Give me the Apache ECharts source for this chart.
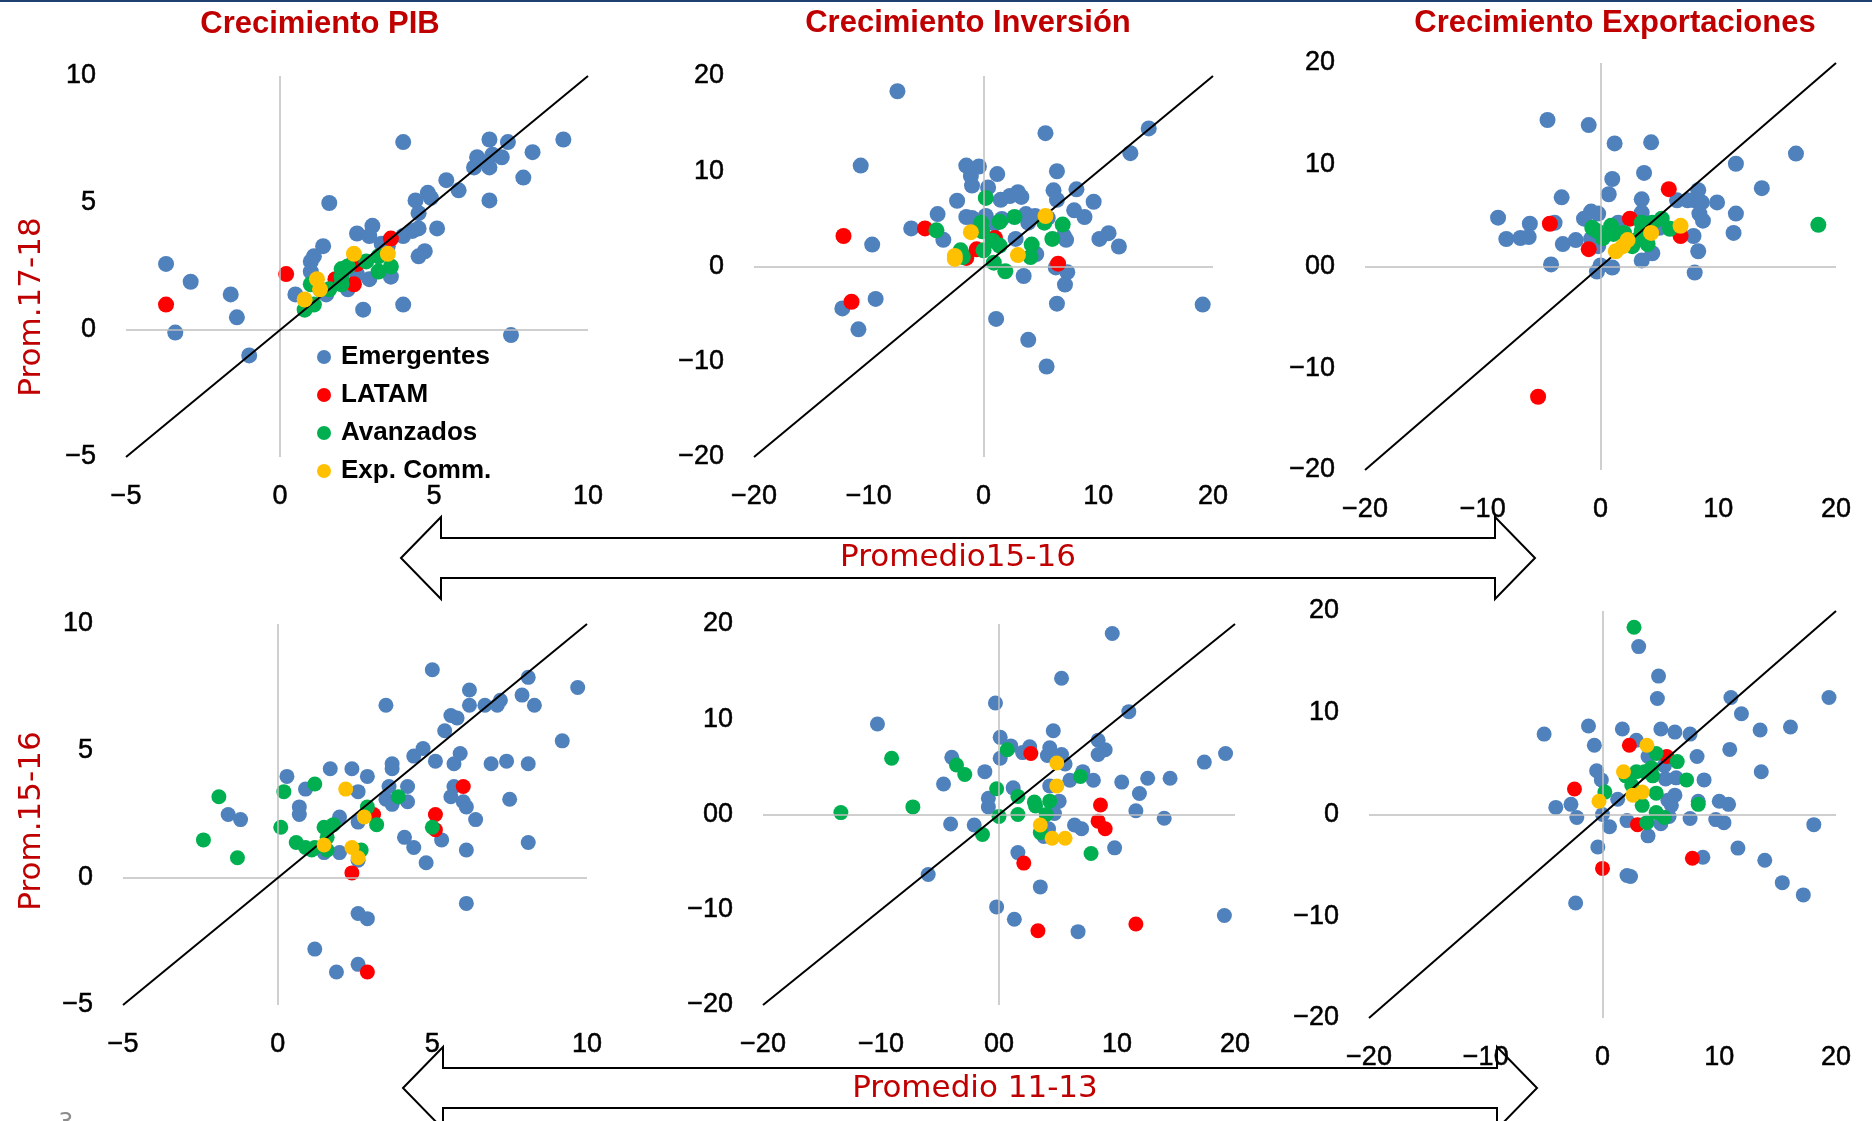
<!DOCTYPE html>
<html>
<head>
<meta charset="utf-8">
<script src="https://cdn.jsdelivr.net/npm/echarts@6/dist/echarts.min.js"></script>
<style>
  html, body { margin: 0; padding: 0; background: #fff; }
  #chart { width: 1872px; height: 1121px; }
</style>
</head>
<body>
<div id="chart"></div>
<script>
const groups = ['Emergentes', 'LATAM', 'Avanzados', 'Exp. Comm.'];
const colors = ['#4F81BD', '#FF0000', '#00B050', '#FFC000'];

// tick labels
const pibTicks = ['−5', '0', '5', '10'];
const invTicks = ['−20', '−10', '0', '10', '20'];
const exp1YTicks = ['−20', '−10', '00', '10', '20'];
const inv2Ticks = ['−20', '−10', '00', '10', '20'];

// Crecimiento PIB, prom. 15-16 (x) vs 17-18 (y)
const pib1Emerg = [[-3.7,2.6],[-2.9,1.9],[-1.6,1.4],[-1.4,0.5],[-3.4,-0.1],[-1.0,-1.0],[4.0,7.4],[1.6,5.0],[6.8,7.5],[7.4,7.4],[9.2,7.5],[8.2,7.0],[6.4,6.8],[6.9,6.9],[7.2,6.8],[6.3,6.4],[6.8,6.4],[6.7,6.6],[7.9,6.0],[5.4,5.9],[5.8,5.5],[6.8,5.1],[4.8,5.4],[4.9,5.2],[4.4,5.1],[4.5,4.6],[5.1,4.0],[4.3,3.9],[4.5,4.0],[4.0,3.7],[4.7,3.1],[4.5,2.9],[4.0,1.0],[7.5,-0.2],[3.0,4.1],[2.5,3.8],[2.9,3.7],[2.7,0.8],[2.9,2.0],[3.6,2.1],[1.4,3.3],[1.1,2.9],[1.0,2.7],[1.0,2.3],[0.5,1.4],[1.5,1.4],[2.2,1.6],[2.4,2.7],[3.3,3.4],[3.5,3.3],[2.5,2.2]];
const pib1Latam = [[-3.7,1.0],[0.2,2.2],[3.6,3.6],[2.5,2.6],[2.4,1.8],[1.8,2.0]];
const pib1Avanz = [[0.8,0.8],[1.1,1.0],[1.0,1.8],[1.3,1.6],[1.6,1.6],[2.0,1.8],[2.0,2.4],[2.2,2.5],[2.8,2.7],[3.2,2.9],[3.2,2.3],[3.6,2.5],[2.0,2.1]];
const pib1Comm = [[0.8,1.2],[1.2,2.0],[1.3,1.6],[2.4,3.0],[3.5,3.0]];

// Crecimiento Inversión
const inv1Emerg = [[-7.5,18.4],[-10.7,10.6],[-9.7,2.3],[-6.3,4.0],[-4.0,5.5],[-3.5,2.8],[-2.3,6.9],[-1.5,10.6],[-0.4,10.5],[-1.1,9.5],[-1.0,8.5],[1.2,9.7],[0.4,8.3],[1.5,7.0],[2.3,7.4],[3.0,7.8],[3.3,7.3],[-1.5,5.2],[-1.0,5.1],[0.2,5.3],[1.0,4.5],[1.6,5.0],[2.8,2.9],[3.7,5.5],[3.9,4.6],[4.5,5.3],[5.6,5.1],[5.4,14.0],[6.4,10.0],[6.1,8.0],[6.4,7.0],[8.1,8.1],[7.9,5.9],[8.8,5.2],[9.6,6.8],[12.8,11.9],[14.4,14.5],[10.1,2.9],[10.9,3.5],[11.8,2.1],[7.0,3.2],[7.2,2.8],[4.6,1.3],[3.5,-1.0],[6.3,-0.1],[7.3,-0.6],[7.1,-1.9],[6.4,-3.9],[19.1,-4.0],[1.1,-5.5],[3.9,-7.7],[5.5,-10.5],[-9.4,-3.4],[-12.3,-4.4],[-10.9,-6.6]];
const inv1Latam = [[-12.2,3.2],[-11.5,-3.7],[-5.1,4.0],[-0.6,1.8],[-1.5,0.9],[1.0,3.0],[6.5,0.3]];
const inv1Avanz = [[-4.1,3.8],[0.2,7.2],[-0.2,4.6],[-0.1,3.7],[1.4,4.7],[2.7,5.2],[5.3,4.6],[6.9,4.4],[6.0,2.9],[4.2,2.3],[4.1,1.0],[0.8,2.7],[1.4,2.2],[0,1.7],[-2.0,1.7],[-1.8,1.0],[0.9,0.4],[1.9,-0.5]];
const inv1Comm = [[-1.1,3.6],[-2.5,0.8],[-2.5,1.1],[3.0,1.2],[5.4,5.3]];

// Crecimiento Exportaciones
const exp1Emerg = [[-4.5,14.4],[-1.0,13.9],[1.2,12.1],[4.3,12.2],[16.6,11.1],[11.5,10.1],[3.7,9.2],[1.0,8.6],[0.7,7.1],[-3.3,6.8],[3.5,6.6],[8.3,7.5],[6.5,6.5],[7.4,6.5],[8.0,6.5],[8.6,6.3],[9.9,6.3],[13.7,7.7],[8.4,5.2],[8.7,4.5],[11.5,5.2],[11.3,3.3],[7.9,3.0],[8.3,1.5],[8.0,-0.6],[3.5,5.3],[-0.8,5.4],[-0.2,5.2],[-1.4,4.7],[-8.7,4.8],[-6.0,4.2],[-8.0,2.7],[-6.8,2.8],[-6.1,2.9],[-3.9,4.3],[-3.2,2.2],[-2.1,2.6],[-4.2,0.2],[-0.8,2.7],[-0.2,2.0],[-0.3,-0.5],[0,0.1],[1.0,-0.1],[3.5,0.6],[4.4,1.3],[1.5,4.3],[5.0,3.8]];
const exp1Latam = [[-5.3,-12.8],[-4.3,4.2],[-1.0,1.7],[2.5,4.7],[5.8,7.6],[6.8,3.0]];
const exp1Avanz = [[18.5,4.1],[-0.7,3.8],[-0.3,3.5],[0.2,2.8],[0.9,4.0],[1.1,3.2],[2.0,3.3],[2.7,2.0],[3.5,4.3],[3.5,3.5],[4.0,2.2],[4.4,4.3],[5.2,4.7],[5.9,3.7],[3.2,2.7]];
const exp1Comm = [[1.3,1.5],[1.9,2.0],[2.3,2.6],[4.3,3.3],[6.8,4.0]];

// second row: prom. 11-13 (x) vs 15-16 (y)
const pib2Emerg = [[5.0,8.2],[8.1,7.9],[9.7,7.5],[6.2,7.4],[7.9,7.2],[6.2,6.8],[7.2,7.0],[7.1,6.8],[6.7,6.8],[8.3,6.8],[3.5,6.8],[5.6,6.4],[5.8,6.3],[5.4,5.8],[9.2,5.4],[4.7,5.1],[4.4,4.8],[5.1,4.6],[5.9,4.9],[5.7,4.5],[6.9,4.5],[7.4,4.6],[8.1,4.5],[3.7,4.5],[3.7,4.3],[1.7,4.3],[2.4,4.3],[2.9,4.0],[0.3,4.0],[0.9,3.5],[2.6,3.4],[3.6,3.6],[3.5,3.1],[3.7,2.9],[4.2,3.6],[4.2,3.0],[5.7,3.6],[5.6,3.2],[6.0,3.0],[6.1,2.8],[6.4,2.3],[7.5,3.1],[0.7,2.8],[0.7,2.5],[-1.6,2.5],[-1.2,2.3],[2.0,2.4],[2.6,2.2],[4.1,1.6],[4.4,1.2],[5.3,1.5],[6.1,1.1],[8.1,1.4],[4.8,0.6],[2.0,1.0],[1.5,1.0],[2.6,0.7],[6.1,-1.0],[2.6,-1.4],[2.9,-1.6],[1.2,-2.8],[1.9,-3.7],[2.6,-3.4]];
const pib2Latam = [[6.0,3.6],[5.1,2.5],[5.1,1.9],[3.1,2.5],[2.4,0.2],[2.9,-3.7]];
const pib2Avanz = [[-1.9,3.2],[-2.4,1.5],[-1.3,0.8],[0.2,3.4],[1.2,3.7],[0.1,2.0],[0.6,1.4],[0.9,1.2],[1.1,1.1],[1.2,1.2],[1.6,1.1],[1.6,1.6],[1.5,2.0],[1.8,2.1],[2.9,2.8],[3.2,2.1],[3.9,3.2],[5.0,2.0],[2.7,1.1]];
const pib2Comm = [[2.2,3.5],[2.8,2.4],[1.5,1.3],[2.4,1.2],[2.6,0.8]];

const inv2Emerg = [[9.6,19.0],[5.3,14.3],[-0.3,11.7],[-10.3,9.5],[11.0,10.8],[4.6,8.8],[0.1,8.1],[1.0,7.2],[2.6,7.1],[4.3,7.0],[4.1,6.2],[5.3,6.3],[2.0,6.5],[0.1,5.9],[-4.0,6.0],[5.6,5.3],[8.4,7.8],[9.0,6.8],[8.4,6.3],[7.1,4.5],[8.0,3.6],[6.0,3.6],[-1.2,4.5],[-4.7,3.2],[1.2,2.8],[4.3,3.0],[-0.9,1.7],[-0.9,0.8],[5.1,1.4],[4.7,0.1],[10.4,3.4],[11.9,2.2],[12.6,3.8],[14.5,3.8],[17.4,5.5],[19.2,6.4],[11.6,0.4],[14.0,-0.4],[-4.1,-1.0],[-2.1,-1.1],[6.4,-1.1],[7.0,-1.5],[4.2,-1.5],[3.8,-2.3],[9.8,-3.5],[1.6,-4.0],[-6.0,-6.3],[3.5,-7.6],[-0.2,-9.7],[1.3,-11.0],[6.7,-12.3],[19.1,-10.6]];
const inv2Latam = [[2.7,6.4],[8.6,1.0],[8.4,-0.7],[9.0,-1.5],[2.1,-5.1],[3.3,-12.2],[11.6,-11.5]];
const inv2Avanz = [[-13.4,0.2],[-7.3,0.8],[-9.1,5.9],[-3.6,5.2],[-2.9,4.2],[-0.2,2.7],[0.7,6.8],[1.6,1.9],[1.6,0.0],[0,-0.2],[-1.4,-2.1],[3.0,1.3],[3.1,0.9],[4.3,1.4],[4.0,0.0],[6.9,4.0],[7.8,-4.1],[3.5,-1.9]];
const inv2Comm = [[4.9,5.4],[4.9,3.0],[3.5,-1.1],[4.5,-2.5],[5.6,-2.5]];

const exp2Emerg = [[3.1,16.5],[4.8,13.6],[4.7,11.4],[11.0,11.5],[19.4,11.5],[11.9,9.9],[-1.2,8.7],[1.7,8.4],[5.0,8.4],[6.2,8.1],[7.5,7.9],[13.5,8.3],[16.1,8.6],[-5.0,7.9],[-0.7,6.8],[2.9,7.3],[3.9,5.7],[8.1,5.7],[10.9,6.4],[5.3,4.8],[-0.5,4.3],[-0.1,3.4],[5.4,3.5],[6.3,3.6],[8.7,3.4],[13.6,4.2],[1.3,1.5],[5.6,1.4],[6.2,1.9],[5.9,0.9],[8.2,1.3],[10.0,1.3],[10.8,1.0],[-4.0,0.7],[-2.7,1.0],[-2.2,-0.3],[0,0],[0.6,-1.2],[2.1,-0.6],[5.0,-0.9],[5.7,-0.2],[7.5,-0.4],[9.7,-0.5],[10.4,-0.8],[18.1,-1.0],[3.9,-2.1],[-0.4,-3.2],[11.6,-3.3],[8.6,-4.2],[13.9,-4.5],[2.1,-6.0],[2.4,-6.1],[15.4,-6.7],[17.2,-7.9],[-2.3,-8.7]];
const exp2Latam = [[2.3,6.8],[5.5,5.7],[-2.4,2.5],[3.0,-1.0],[0,-5.3],[7.7,-4.3]];
const exp2Avanz = [[2.7,18.4],[4.6,6.0],[6.4,5.2],[7.2,3.4],[8.2,1.0],[0.2,2.2],[4.6,2.1],[3.4,0.9],[4.6,0.2],[5.3,-0.3],[3.8,-0.8],[2.0,3.8],[2.9,4.2],[3.6,4.2],[4.2,4.6],[4.3,3.8],[2.5,2.9]];
const exp2Comm = [[3.8,6.8],[1.8,4.2],[3.4,2.2],[2.6,1.9],[-0.3,1.3]];

const panels = [
  { grid: [126, 76, 462, 381], range: [-5, 10, 5], xt: pibTicks, yt: pibTicks, sets: [pib1Emerg, pib1Latam, pib1Avanz, pib1Comm], size: 16 },
  { grid: [754, 76, 459, 381], range: [-20, 20, 10], xt: invTicks, yt: invTicks, sets: [inv1Emerg, inv1Latam, inv1Avanz, inv1Comm], size: 16 },
  { grid: [1365, 63, 471, 407], range: [-20, 20, 10], xt: invTicks, yt: exp1YTicks, sets: [exp1Emerg, exp1Latam, exp1Avanz, exp1Comm], size: 16 },
  { grid: [123, 624, 464, 381], range: [-5, 10, 5], xt: pibTicks, yt: pibTicks, sets: [pib2Emerg, pib2Latam, pib2Avanz, pib2Comm], size: 15 },
  { grid: [763, 624, 472, 381], range: [-20, 20, 10], xt: inv2Ticks, yt: inv2Ticks, sets: [inv2Emerg, inv2Latam, inv2Avanz, inv2Comm], size: 15 },
  { grid: [1369, 611, 467, 407], range: [-20, 20, 10], xt: invTicks, yt: invTicks, sets: [exp2Emerg, exp2Latam, exp2Avanz, exp2Comm], size: 15 }
];

const tickFont = { fontFamily: 'Liberation Sans', fontSize: 27, color: '#000', textBorderColor: '#000', textBorderWidth: 0.5 };
const grids = [], xAxes = [], yAxes = [], series = [];

panels.forEach((p, i) => {
  const [min, max, step] = p.range;
  grids.push({ left: p.grid[0], top: p.grid[1], width: p.grid[2], height: p.grid[3] });
  const axisBase = {
    gridIndex: i, type: 'value', min: min, max: max, interval: step,
    axisLine: { show: false }, axisTick: { show: false }, splitLine: { show: false }
  };
  xAxes.push(Object.assign({}, axisBase, {
    axisLabel: Object.assign({ margin: 26, formatter: (v, k) => p.xt[k] }, tickFont)
  }));
  yAxes.push(Object.assign({}, axisBase, {
    axisLabel: Object.assign({ margin: 30, formatter: (v, k) => p.yt[k] }, tickFont)
  }));
  // zero lines and 45° line
  series.push({
    type: 'scatter', xAxisIndex: i, yAxisIndex: i, data: [], silent: true, z: 1,
    markLine: {
      silent: true, symbol: 'none', label: { show: false },
      lineStyle: { color: '#BFBFBF', width: 1.5, type: 'solid' },
      data: [
        { xAxis: 0 },
        { yAxis: 0 },
        [{ coord: [min, min], lineStyle: { color: '#000', width: 2, type: 'solid' } }, { coord: [max, max] }]
      ]
    }
  });
  p.sets.forEach((d, g) => {
    series.push({
      name: groups[g], type: 'scatter', xAxisIndex: i, yAxisIndex: i, z: 2 + g,
      symbolSize: p.size, data: d,
      itemStyle: { color: colors[g], opacity: 1 }
    });
  });
});

function arrow(cy, x0, x1) {
  const h = 41, b = 20;
  return [[x0, cy], [x0 + 40, cy - h], [x0 + 40, cy - b], [x1 - 40, cy - b], [x1 - 40, cy - h], [x1, cy],
          [x1 - 40, cy + h], [x1 - 40, cy + b], [x0 + 40, cy + b], [x0 + 40, cy + h]];
}

const red = '#C00000';
const chart = echarts.init(document.getElementById('chart'), null, { renderer: 'canvas' });
chart.setOption({
  animation: false,
  backgroundColor: '#fff',
  grid: grids,
  xAxis: xAxes,
  yAxis: yAxes,
  legend: {
    data: groups, orient: 'vertical', left: 312, top: 339,
    icon: 'circle', itemWidth: 14, itemHeight: 14, itemGap: 12,
    textStyle: { fontFamily: 'Liberation Sans', fontWeight: 'bold', fontSize: 26, lineHeight: 24, color: '#000', padding: [0, 0, 0, 5] }
  },
  series: series,
  graphic: [
    { type: 'rect', shape: { x: 0, y: 0, width: 1872, height: 2 }, style: { fill: '#1F3F6E' } },
    { type: 'text', x: 320, y: 24, style: { text: 'Crecimiento PIB', fill: red, font: 'bold 31px "Liberation Sans"', textAlign: 'center', textVerticalAlign: 'middle' } },
    { type: 'text', x: 968, y: 23, style: { text: 'Crecimiento Inversión', fill: red, font: 'bold 31px "Liberation Sans"', textAlign: 'center', textVerticalAlign: 'middle' } },
    { type: 'text', x: 1615, y: 23, style: { text: 'Crecimiento Exportaciones', fill: red, font: 'bold 31px "Liberation Sans"', textAlign: 'center', textVerticalAlign: 'middle' } },
    { type: 'text', x: 32, y: 307, rotation: Math.PI / 2, style: { text: 'Prom.17-18', fill: red, font: '31px "DejaVu Sans"', textAlign: 'center', textVerticalAlign: 'middle' } },
    { type: 'text', x: 32, y: 821, rotation: Math.PI / 2, style: { text: 'Prom.15-16', fill: red, font: '31px "DejaVu Sans"', textAlign: 'center', textVerticalAlign: 'middle' } },
    { type: 'polygon', shape: { points: arrow(558, 401, 1535) }, style: { fill: '#fff', stroke: '#000', lineWidth: 2 } },
    { type: 'text', x: 958, y: 558, style: { text: 'Promedio15-16', fill: red, font: '31px "DejaVu Sans"', textAlign: 'center', textVerticalAlign: 'middle' } },
    { type: 'polygon', shape: { points: arrow(1088, 403, 1537) }, style: { fill: '#fff', stroke: '#000', lineWidth: 2 } },
    { type: 'text', x: 975, y: 1089, style: { text: 'Promedio 11-13', fill: red, font: '31px "DejaVu Sans"', textAlign: 'center', textVerticalAlign: 'middle' } },
    { type: 'text', x: 66, y: 1112, style: { text: '3', fill: '#8C8C8C', font: '24px "DejaVu Sans"', textAlign: 'center', textVerticalAlign: 'top' } }
  ]
});
</script>
</body>
</html>
